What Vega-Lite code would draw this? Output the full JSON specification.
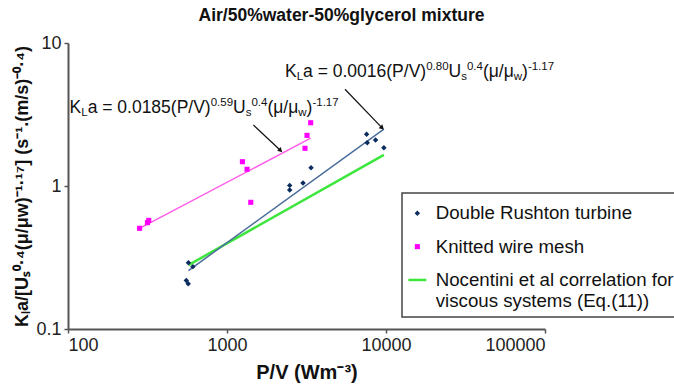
{
  "$schema": "https://vega.github.io/schema/vega-lite/v6.json",
  "width": 477,
  "height": 286,
  "autosize": {"type": "none"},
  "padding": {"left": 68, "top": 43, "right": 129, "bottom": 59},
  "background": "white",
  "title": {
    "text": "Air/50%water-50%glycerol mixture",
    "font": "Liberation Sans",
    "fontSize": 17.5,
    "fontWeight": "bold",
    "color": "#111111",
    "anchor": "middle",
    "dx": 35,
    "offset": 10
  },
  "config": {
    "view": {"stroke": null},
    "axis": {
      "grid": false,
      "labelFont": "Liberation Sans",
      "labelFontSize": 18,
      "labelColor": "#222222",
      "labelPadding": 3,
      "tickSize": 4,
      "tickColor": "#555555",
      "tickWidth": 1.5,
      "domainColor": "#555555",
      "domainWidth": 2,
      "titleFont": "Liberation Sans",
      "titleFontWeight": "bold",
      "titleColor": "#111111"
    },
    "text": {"font": "Liberation Sans", "color": "#111111", "align": "left", "baseline": "alphabetic"}
  },
  "datasets": {
    "obs": [
      {"series": "Double Rushton turbine", "pv": 555, "kla": 0.218},
      {"series": "Double Rushton turbine", "pv": 570, "kla": 0.207},
      {"series": "Double Rushton turbine", "pv": 572, "kla": 0.291},
      {"series": "Double Rushton turbine", "pv": 610, "kla": 0.273},
      {"series": "Double Rushton turbine", "pv": 2480, "kla": 1.01},
      {"series": "Double Rushton turbine", "pv": 2480, "kla": 0.938},
      {"series": "Double Rushton turbine", "pv": 3006, "kla": 1.05},
      {"series": "Double Rushton turbine", "pv": 3377, "kla": 1.343},
      {"series": "Double Rushton turbine", "pv": 7551, "kla": 2.3},
      {"series": "Double Rushton turbine", "pv": 7620, "kla": 2.01},
      {"series": "Double Rushton turbine", "pv": 8600, "kla": 2.1},
      {"series": "Double Rushton turbine", "pv": 9700, "kla": 1.85},
      {"series": "Knitted wire mesh", "pv": 3360, "kla": 2.77},
      {"series": "Knitted wire mesh", "pv": 3186, "kla": 2.26},
      {"series": "Knitted wire mesh", "pv": 3094, "kla": 1.835},
      {"series": "Knitted wire mesh", "pv": 1250, "kla": 1.479},
      {"series": "Knitted wire mesh", "pv": 1337, "kla": 1.309},
      {"series": "Knitted wire mesh", "pv": 1411, "kla": 0.769},
      {"series": "Knitted wire mesh", "pv": 322, "kla": 0.575},
      {"series": "Knitted wire mesh", "pv": 316, "kla": 0.554},
      {"series": "Knitted wire mesh", "pv": 282, "kla": 0.506}
    ],
    "fits": [
      {"fit": "Double Rushton turbine", "pv": 572, "kla": 0.256},
      {"fit": "Double Rushton turbine", "pv": 9700, "kla": 2.5},
      {"fit": "Knitted wire mesh", "pv": 282, "kla": 0.506},
      {"fit": "Knitted wire mesh", "pv": 3360, "kla": 2.16},
      {"fit": "Nocentini", "pv": 572, "kla": 0.28},
      {"fit": "Nocentini", "pv": 9700, "kla": 1.65}
    ],
    "arrows": [
      {"pv": 1466, "kla": 2.67, "pv_end": 2156, "kla_end": 1.785},
      {"pv": 5521, "kla": 4.75, "pv_end": 9385, "kla_end": 2.573}
    ],
    "notes": [
      {"pv": 102.3, "kla": 3.24, "coef": "a = 0.0185(P/V)", "expo": "0.59"},
      {"pv": 2317, "kla": 5.81, "coef": "a = 0.0016(P/V)", "expo": "0.80"}
    ]
  },
  "encoding": {
    "x": {"field": "pv", "type": "quantitative"},
    "y": {"field": "kla", "type": "quantitative"}
  },
  "layer": [
    {
      "data": {"name": "fits"},
      "transform": [{"filter": "datum.fit === 'Nocentini'"}],
      "mark": {"type": "line", "color": "#3de63d", "strokeWidth": 2.5}
    },
    {
      "data": {"name": "fits"},
      "transform": [{"filter": "datum.fit === 'Double Rushton turbine'"}],
      "mark": {"type": "line", "color": "#4a6c9b", "strokeWidth": 1.5}
    },
    {
      "data": {"name": "fits"},
      "transform": [{"filter": "datum.fit === 'Knitted wire mesh'"}],
      "mark": {"type": "line", "color": "#ff5ce8", "strokeWidth": 1.5}
    },
    {
      "data": {"name": "obs"},
      "mark": {"type": "point", "filled": true, "opacity": 1, "strokeWidth": 0},
      "encoding": {
        "x": {
          "field": "pv",
          "type": "quantitative",
          "scale": {"type": "log", "domain": [100, 100000], "nice": false},
          "axis": {
            "values": [100, 1000, 10000, 100000],
            "format": "d",
            "title": "P/V (Wm⁻³)",
            "titleFontSize": 20,
            "titlePadding": 8
          }
        },
        "y": {
          "field": "kla",
          "type": "quantitative",
          "scale": {"type": "log", "domain": [0.1, 10], "nice": false},
          "axis": {
            "values": [0.1, 1, 10],
            "format": "~g",
            "title": "Kₗa/[Uₛ⁰·⁴(μ/μw)⁻¹·¹⁷] (s⁻¹.(m/s)⁻⁰·⁴)",
            "titleFontSize": 18,
            "titlePadding": 4
          }
        },
        "color": {
          "field": "series",
          "type": "nominal",
          "scale": {
            "domain": ["Double Rushton turbine", "Knitted wire mesh", "Nocentini et al correlation for viscous systems (Eq.(11))"],
            "range": ["#0b2c5e", "#ff00ff", "#3de63d"]
          },
          "legend": {
            "title": " ",
            "titleFontSize": 1,
            "titlePadding": 4,
            "orient": "none",
            "legendX": 334,
            "legendY": 150,
            "fillColor": "white",
            "strokeColor": "#444444",
            "padding": 6,
            "rowPadding": 13.3,
            "labelFont": "Liberation Sans",
            "labelFontSize": 18.7,
            "labelColor": "#111111",
            "labelLimit": 400,
            "labelOffset": 9,
            "symbolOpacity": 1,
            "labelExpr": "datum.label === 'Nocentini et al correlation for viscous systems (Eq.(11))' ? ['Nocentini et al correlation for', 'viscous systems (Eq.(11))'] : datum.label",
            "encode": {
              "legend": {"update": {"strokeWidth": {"value": 1.5}}},
              "labels": {"update": {"lineHeight": {"value": 21}}},
              "symbols": {
                "update": {
                  "stroke": {"signal": "scale('color', datum.value)"},
                  "strokeWidth": {"signal": "datum.value === 'Nocentini et al correlation for viscous systems (Eq.(11))' ? 2.5 : 0"}
                }
              }
            }
          }
        },
        "shape": {
          "field": "series",
          "type": "nominal",
          "scale": {
            "domain": ["Double Rushton turbine", "Knitted wire mesh", "Nocentini et al correlation for viscous systems (Eq.(11))"],
            "range": ["diamond", "square", "stroke"]
          }
        },
        "size": {
          "field": "series",
          "type": "nominal",
          "scale": {
            "type": "ordinal",
            "domain": ["Double Rushton turbine", "Knitted wire mesh", "Nocentini et al correlation for viscous systems (Eq.(11))"],
            "range": [30, 26, 324]
          }
        }
      }
    },
    {
      "data": {"name": "arrows"},
      "mark": {"type": "rule", "color": "#111111", "strokeWidth": 1.2},
      "encoding": {
        "x2": {"field": "pv_end"},
        "y2": {"field": "kla_end"}
      }
    },
    {
      "data": {"name": "arrows"},
      "mark": {"type": "point", "shape": "triangle", "filled": true, "color": "#111111", "size": 28, "angle": 134, "opacity": 1},
      "encoding": {
        "x": {"field": "pv_end", "type": "quantitative"},
        "y": {"field": "kla_end", "type": "quantitative"}
      }
    },
    {"data": {"name": "notes"}, "mark": {"type": "text", "fontSize": 17.5, "text": "K"}},
    {"data": {"name": "notes"}, "mark": {"type": "text", "fontSize": 11.5, "dx": 11.67, "dy": 3.5, "text": "L"}},
    {"data": {"name": "notes"}, "mark": {"type": "text", "fontSize": 17.5, "dx": 18.06}, "encoding": {"text": {"field": "coef"}}},
    {"data": {"name": "notes"}, "mark": {"type": "text", "fontSize": 11.5, "dx": 141.12, "dy": -6.5}, "encoding": {"text": {"field": "expo"}}},
    {"data": {"name": "notes"}, "mark": {"type": "text", "fontSize": 17.5, "dx": 163.5, "text": "U"}},
    {"data": {"name": "notes"}, "mark": {"type": "text", "fontSize": 11.5, "dx": 176.14, "dy": 3.5, "text": "s"}},
    {"data": {"name": "notes"}, "mark": {"type": "text", "fontSize": 11.5, "dx": 181.89, "dy": -6.5, "text": "0.4"}},
    {"data": {"name": "notes"}, "mark": {"type": "text", "fontSize": 17.5, "dx": 197.88, "text": "(μ/μ"}},
    {"data": {"name": "notes"}, "mark": {"type": "text", "fontSize": 11.5, "dx": 228.73, "dy": 3.5, "text": "w"}},
    {"data": {"name": "notes"}, "mark": {"type": "text", "fontSize": 17.5, "dx": 237.03, "text": ")"}},
    {"data": {"name": "notes"}, "mark": {"type": "text", "fontSize": 11.5, "dx": 242.86, "dy": -6.5, "text": "-1.17"}}
  ]
}
